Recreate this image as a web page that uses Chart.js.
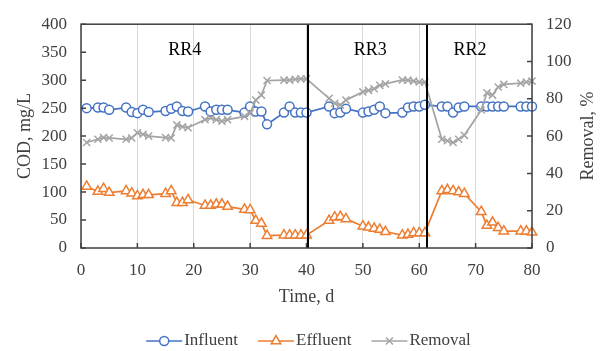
<!DOCTYPE html>
<html>
<head>
<meta charset="utf-8">
<script src="https://cdn.jsdelivr.net/npm/chart.js@4"></script>
<style>
  html, body { margin: 0; padding: 0; background: #fff; }
  #chart { display: block; }
</style>
</head>
<body>
<canvas id="chart" width="600" height="351"></canvas>
<script>
// ---- data ----
const days = [1,3,4,5, 8,9,10,11,12, 15,16,17,18,19, 22,23,24,25,26, 29,30,31,32,33,
              36,37,38,39,40, 44,45,46,47, 50,51,52,53,54, 57,58,59,60,61,
              64,65,66,67,68, 71,72,73,74,75, 78,79,80];

const influent = [250,251,251,247, 251,243,241,247,243, 245,249,253,245,244, 253,244,247,247,247,
                  242,253,244,244,221, 242,253,242,242,242, 253,241,242,249, 242,244,247,253,241,
                  242,251,253,253,256, 253,253,242,251,253, 253,253,253,253,253, 253,253,253];

const effluent = [110,101,106,99, 102,98,93,95,95, 97,102,81,81,86, 76,76,78,78,74,
                  69,68,49,44,22, 23,23,23,23,23, 49,55,56,52, 39,37,35,33,29,
                  23,24,27,27,27, 102,104,102,100,97, 65,40,46,36,30, 30,30,28];

const removal = [56.6,58.3,59.2,59, 58.3,59,61.8,61,60, 59.2,59,66,65,64.5, 68.8,69.7,68.8,68,68.8,
                 70.6,72.3,79.3,82,89.8, 90,90,90.5,90.7,90.7, 80.2,77.6,76.7,79.3, 83.7,84.5,85.4,87.2,88,
                 90.1,90,89.5,89,89, 58.3,57.5,56.6,58.3,60.4, 74,83.2,82,86.3,87.7, 88.4,89,89.5];

const phaseNames     = ['RR4', 'RR3', 'RR2'];
const phaseLabelDays = [18.4, 51.3, 69];
const phaseEnds      = [40.3, 61.3];

const xTitle  = 'Time, d';
const yTitle  = 'COD, mg/L';
const y1Title = 'Removal, %';

// ---- styling ----
const FONT     = '"Liberation Serif", "Times New Roman", serif';
const TXT      = '#404040';
const FRAME    = '#404040';
const C_INF    = '#4472C4';
const C_EFF    = '#ED7D31';
const C_REM    = '#A5A5A5';

const pts = arr => arr.map((v, i) => ({ x: days[i], y: v }));

// frame, inner ticks, phase separators and labels
const decor = {
  id: 'decor',
  afterDatasetsDraw(chart) {
    const { ctx, chartArea: a, scales: { x, y, y1 } } = chart;
    ctx.save();

    ctx.strokeStyle = '#000';
    ctx.lineWidth = 2;
    phaseEnds.forEach(d => {
      const px = Math.round(x.getPixelForValue(d));
      ctx.beginPath();
      ctx.moveTo(px, a.top);
      ctx.lineTo(px, a.bottom);
      ctx.stroke();
    });

    ctx.strokeStyle = FRAME;
    ctx.lineWidth = 1.5;
    ctx.strokeRect(a.left, a.top, a.right - a.left, a.bottom - a.top);

    ctx.beginPath();
    y.ticks.forEach(t => {
      const py = y.getPixelForValue(t.value);
      ctx.moveTo(a.left, py); ctx.lineTo(a.left + 5, py);
    });
    y1.ticks.forEach(t => {
      const py = y1.getPixelForValue(t.value);
      ctx.moveTo(a.right - 5, py); ctx.lineTo(a.right, py);
    });
    x.ticks.forEach(t => {
      const px = x.getPixelForValue(t.value);
      ctx.moveTo(px, a.bottom); ctx.lineTo(px, a.bottom - 5);
    });
    ctx.stroke();

    ctx.fillStyle = '#000';
    ctx.font = '18px ' + FONT;
    ctx.textAlign = 'center';
    ctx.textBaseline = 'middle';
    phaseNames.forEach((n, i) => {
      ctx.fillText(n, x.getPixelForValue(phaseLabelDays[i]), a.top + 26);
    });
    ctx.restore();
  },

  afterDraw(chart) {
    const { ctx, chartArea: a } = chart;
    ctx.save();

    // right axis title, reading bottom to top like the left one
    ctx.fillStyle = TXT;
    ctx.font = '18px ' + FONT;
    ctx.textAlign = 'center';
    ctx.textBaseline = 'middle';
    ctx.translate(588, (a.top + a.bottom) / 2);
    ctx.rotate(-Math.PI / 2);
    ctx.fillText(y1Title, 0, 0);
    ctx.setTransform(1, 0, 0, 1, 0, 0);

    // legend: line with marker, then text
    ctx.font = '17px ' + FONT;
    ctx.textAlign = 'left';
    const sets = chart.data.datasets.slice().sort((p, q) => p.legendIdx - q.legendIdx);
    const lineLen = 36, gap = 2, spacing = 20, ly = 341;
    const widths = sets.map(s => lineLen + gap + ctx.measureText(s.label).width);
    const total = widths.reduce((s, w) => s + w, 0) + spacing * (sets.length - 1);
    let lx = (a.left + a.right) / 2 + 2 - total / 2;
    sets.forEach((s, i) => {
      ctx.strokeStyle = s.borderColor;
      ctx.lineWidth = 1.5;
      ctx.beginPath();
      ctx.moveTo(lx, ly); ctx.lineTo(lx + lineLen, ly);
      ctx.stroke();
      ctx.fillStyle = '#fff';
      Chart.helpers.drawPoint(ctx, {
        pointStyle: s.pointStyle, radius: s.pointRadius, borderWidth: 1.5, rotation: 0
      }, lx + lineLen / 2, ly);
      ctx.fillStyle = TXT;
      ctx.fillText(s.label, lx + lineLen + gap, ly);
      lx += widths[i] + spacing;
    });
    ctx.restore();
  }
};

Chart.defaults.font.family = FONT;
Chart.defaults.color = TXT;

new Chart(document.getElementById('chart'), {
  type: 'line',
  data: {
    datasets: [
      {
        label: 'Removal', legendIdx: 2, order: 0, yAxisID: 'y1',
        data: pts(removal),
        borderColor: C_REM, backgroundColor: '#fff',
        borderWidth: 1.75, pointStyle: 'crossRot', pointRadius: 5,
        pointBorderWidth: 1.5, pointBorderColor: C_REM
      },
      {
        label: 'Effluent', legendIdx: 1, order: 1, yAxisID: 'y',
        data: pts(effluent),
        borderColor: C_EFF, backgroundColor: '#fff',
        borderWidth: 1.75, pointStyle: 'triangle', pointRadius: 5.5,
        pointBorderWidth: 1.5, pointBorderColor: C_EFF, pointBackgroundColor: '#fff'
      },
      {
        label: 'Influent', legendIdx: 0, order: 2, yAxisID: 'y',
        data: pts(influent),
        borderColor: C_INF, backgroundColor: '#fff',
        borderWidth: 1.75, pointStyle: 'circle', pointRadius: 4.5,
        pointBorderWidth: 1.5, pointBorderColor: C_INF, pointBackgroundColor: '#fff'
      }
    ]
  },
  options: {
    responsive: false,
    animation: false,
    devicePixelRatio: 1,
    layout: { padding: { top: 19, left: 0, right: 0, bottom: 0 } },
    plugins: { legend: { display: false }, tooltip: { enabled: false } },
    elements: { line: { tension: 0 } },
    datasets: { line: { clip: false } },
    scales: {
      x: {
        type: 'linear', min: 0, max: 80,
        ticks: { stepSize: 10, padding: 12, font: { size: 17 }, color: TXT },
        grid: { color: '#d9d9d9', lineWidth: 1, drawTicks: false },
        border: { display: false },
        title: { display: true, text: xTitle, font: { size: 18 }, color: TXT, padding: { top: 0, bottom: 43 } },
        afterFit: s => { s.height = 103; }
      },
      y: {
        position: 'left', min: 0, max: 400,
        ticks: { stepSize: 50, padding: 14, font: { size: 17 }, color: TXT },
        grid: { display: false, drawTicks: false },
        border: { display: false },
        title: { display: true, text: yTitle, font: { size: 18 }, color: TXT, padding: { top: 14, bottom: 0 } },
        afterFit: s => { s.width = 81; }
      },
      y1: {
        position: 'right', min: 0, max: 120,
        ticks: { stepSize: 20, padding: 14, font: { size: 17 }, color: TXT },
        grid: { display: false, drawTicks: false },
        border: { display: false },
        afterFit: s => { s.width = 68; }
      }
    }
  },
  plugins: [decor]
});
</script>
</body>
</html>
